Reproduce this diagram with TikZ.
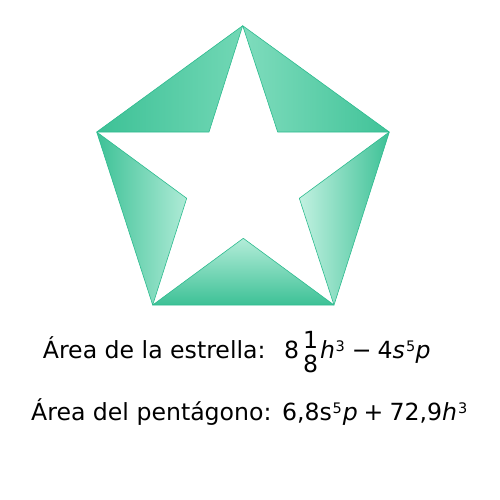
\documentclass[tikz,border=0pt]{standalone}
\usepackage{fontspec}
\setmainfont{DejaVu Sans}
\definecolor{gedge}{HTML}{2DBB8F}
\definecolor{gdark}{HTML}{3DC196}
\definecolor{gmid}{HTML}{62D3AD}
\definecolor{glight}{HTML}{C2F1E1}
\newcommand{\supr}[1]{\raisebox{6.5pt}{\fontsize{14.5}{14.5}\selectfont #1}}
\newcommand{\fracot}{\rlap{\raisebox{10pt}{1}}\raisebox{-14pt}{8}}
\tikzset{
  face/.style={draw=gedge, line width=0.6pt, line join=round},
  txt/.style={font=\fontsize{23.6}{28}\selectfont, inner sep=0pt, anchor=base west}
}
\begin{document}
\begin{tikzpicture}[x=1pt,y=-1pt]
\useasboundingbox (0,0) rectangle (500,500);
% outer vertices
\coordinate (T) at (242.7,25.7);
\coordinate (L) at (96.7,132);
\coordinate (R) at (389.3,132);
\coordinate (BL) at (152.7,305);
\coordinate (BR) at (334,305);
% inner vertices
\coordinate (iUL) at (209,132);
\coordinate (iUR) at (277.7,132);
\coordinate (iL) at (186.7,198.3);
\coordinate (iR) at (299.3,198.3);
\coordinate (iB) at (243.3,238.3);
% faces
\shade[face, left color=gdark, right color=gmid!90] (T) -- (L) -- (iUL) -- cycle;
\shade[face, left color=gmid!70!glight, right color=gdark!90!gmid] (T) -- (R) -- (iUR) -- cycle;
\shade[face, left color=gdark, right color=glight!80!gmid] (L) -- (BL) -- (iL) -- cycle;
\shade[face, left color=glight, right color=gdark] (R) -- (BR) -- (iR) -- cycle;
\shade[face, top color=glight!85!gmid, bottom color=gdark] (BL) -- (BR) -- (iB) -- cycle;
% texts
\node[txt] (lab1) at (42.7,358) {Área de la estrella:};
\node[txt] (f1) at (284,358) {8\kern4pt\fracot\kern2pt\textit{h}\kern0.5pt\supr{3}\kern7pt−\kern6pt4\textit{s}\kern1pt\supr{5}\kern0.5pt\textit{p}};
\node[txt] (lab2) at (31,420) {Área del pentágono:};
\node[txt] (f2) at (282,420) {6,8s\kern0.5pt\supr{5}\kern1pt\textit{p}\kern6pt+\kern6pt72,9\textit{h}\kern1pt\supr{3}};
\end{tikzpicture}
\end{document}
